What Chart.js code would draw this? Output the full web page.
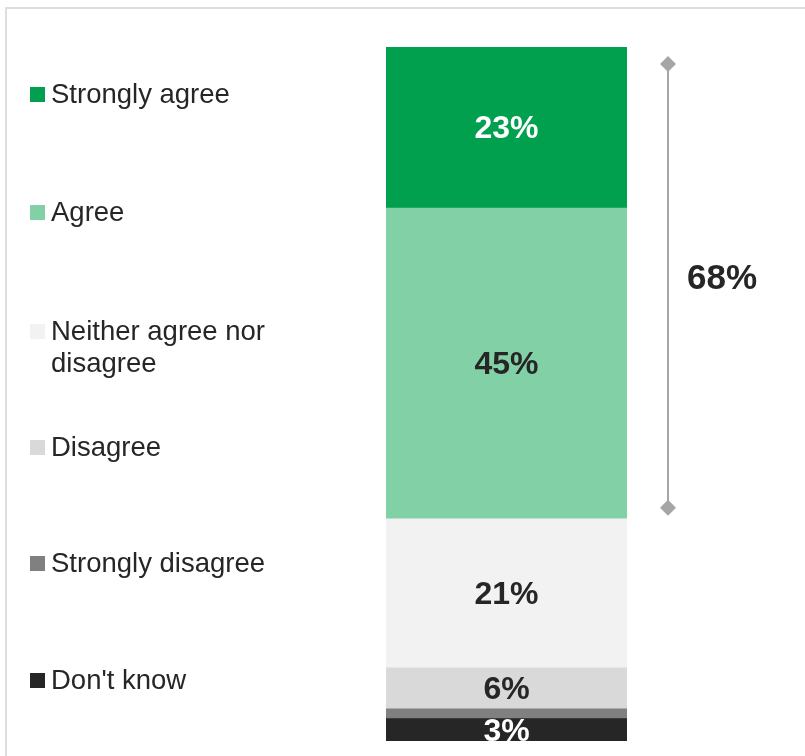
<!DOCTYPE html>
<html>
<head>
<meta charset="utf-8">
<script src="https://cdn.jsdelivr.net/npm/chart.js@4.4.1/dist/chart.umd.min.js"></script>
<style>
  html, body { margin: 0; padding: 0; background: #ffffff; }
  body { width: 805px; height: 756px; position: relative; overflow: hidden;
         font-family: "Liberation Sans", Arial, sans-serif; }
  #frame { position: absolute; left: 5px; top: 7px; width: 900px; height: 900px;
           border-left: 2px solid #dedede; border-top: 2px solid #dedede; }
  #wrap { position: absolute; left: 0; top: 0; width: 805px; height: 743px; }
  #legend { position: absolute; left: 0; top: 0; }
  .item { position: absolute; left: 51px; font-size: 27.5px; line-height: 32px; color: #262626; width: 300px; }
  .sw { position: absolute; left: -21px; top: 9px; width: 15px; height: 15px; }
</style>
</head>
<body>
<div id="frame"></div>
<div id="wrap"><canvas id="c" width="805" height="743"></canvas></div>
<div id="legend"></div>
<script>
// ---- data (legend order, top of bar first) ----
const categories = ["Strongly agree", "Agree", "Neither agree nor disagree", "Disagree", "Strongly disagree", "Don't know"];
const legendLines = [["Strongly agree"], ["Agree"], ["Neither agree nor", "disagree"], ["Disagree"], ["Strongly disagree"], ["Don't know"]];
const values = [23.1, 44.6, 21.4, 5.9, 1.4, 3.2];
const colors = ["#00a04f", "#82d0a6", "#f2f2f2", "#d9d9d9", "#808080", "#262626"];
const labelColors = ["#ffffff", "#262626", "#262626", "#262626", "#262626", "#ffffff"];
const bracketGroup = [0, 1]; // Strongly agree + Agree => net agree
const barLabel = [""];

// ---- legend (HTML text) ----
const legendTops = [78, 196, 315, 431, 547, 664];
const legendEl = document.getElementById('legend');
categories.forEach((c, i) => {
  const d = document.createElement('div');
  d.className = 'item';
  d.style.top = legendTops[i] + 'px';
  d.innerHTML = '<span class="sw" style="background:' + colors[i] + '"></span>' + legendLines[i].join('<br>');
  legendEl.appendChild(d);
});

// ---- datasets: bottom of stack first ----
const order = categories.map((_, i) => i).reverse();
const datasets = order.map(i => ({
  label: categories[i],
  data: [values[i]],
  backgroundColor: colors[i],
  borderWidth: 0,
  barPercentage: 1.0,
  categoryPercentage: 1.0,
  _idx: i
}));
const total = values.reduce((a, b) => a + b, 0);

const segLabels = {
  id: 'segLabels',
  afterDatasetsDraw(chart) {
    const ctx = chart.ctx;
    ctx.save();
    ctx.font = 'bold 32px "Liberation Sans", Arial, sans-serif';
    ctx.textAlign = 'center';
    ctx.textBaseline = 'middle';
    chart.data.datasets.forEach((ds, di) => {
      const i = ds._idx;
      if (values[i] < 3) return;
      const el = chart.getDatasetMeta(di).data[0];
      const yc = (el.y + el.base) / 2;
      ctx.fillStyle = labelColors[i];
      ctx.fillText(Math.round(values[i]) + '%', el.x, yc + 2);
    });
    // bracket for net agree
    const ys = chart.scales.y;
    const xs = chart.chartArea.right;
    let below = 0;
    for (let k = categories.length - 1; k > Math.max(...bracketGroup); k--) below += values[k];
    const net = bracketGroup.reduce((s, k) => s + values[k], 0);
    const yTop = ys.getPixelForValue(below + net) + 17;
    const yBot = ys.getPixelForValue(below) - 11;
    const bx = xs + 41;
    ctx.strokeStyle = '#a6a6a6';
    ctx.fillStyle = '#a6a6a6';
    ctx.lineWidth = 2;
    ctx.beginPath();
    ctx.moveTo(bx, yTop);
    ctx.lineTo(bx, yBot);
    ctx.stroke();
    [yTop, yBot].forEach(y => {
      ctx.beginPath();
      ctx.moveTo(bx, y - 8);
      ctx.lineTo(bx + 8, y);
      ctx.lineTo(bx, y + 8);
      ctx.lineTo(bx - 8, y);
      ctx.closePath();
      ctx.fill();
    });
    ctx.fillStyle = '#262626';
    ctx.font = 'bold 35px "Liberation Sans", Arial, sans-serif';
    ctx.fillText(Math.round(net) + '%', bx + 54, (yTop + yBot) / 2 - 7);
    ctx.restore();
  }
};

new Chart(document.getElementById('c'), {
  type: 'bar',
  data: { labels: barLabel, datasets },
  options: {
    responsive: false,
    animation: false,
    layout: { padding: { left: 386, right: 178, top: 47, bottom: 2 } },
    scales: {
      x: { stacked: true, display: false },
      y: { stacked: true, display: false, min: 0, max: total }
    },
    plugins: { legend: { display: false }, tooltip: { enabled: false } }
  },
  plugins: [segLabels]
});
</script>
</body>
</html>
